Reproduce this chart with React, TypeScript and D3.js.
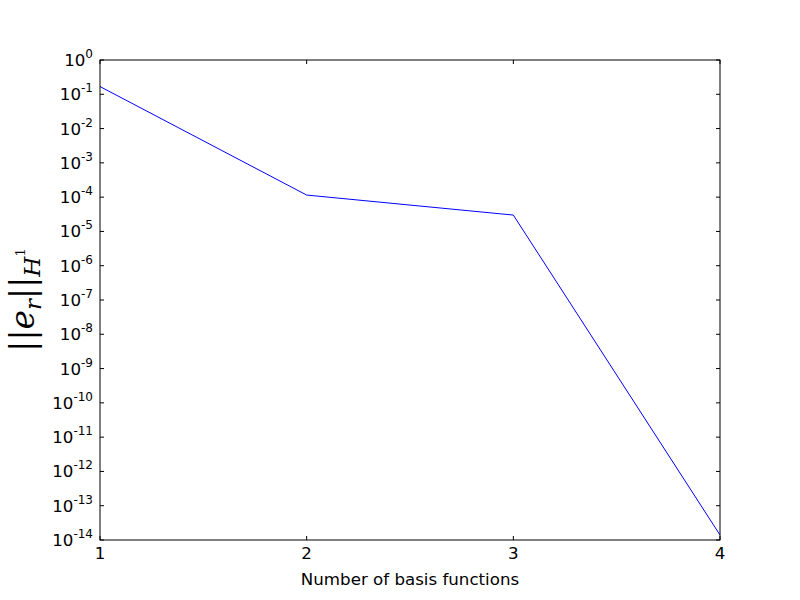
import React from "react";
import * as d3 from "d3";

const xValues = [1, 2, 3, 4];
const errValues = [0.168, 1.15e-4, 3.0e-5, 1.4e-14];
const xTicks = [1, 2, 3, 4];
const yExponents = [0, -1, -2, -3, -4, -5, -6, -7, -8, -9, -10, -11, -12, -13, -14];

const W = 800, H = 600;
const M = { left: 100, right: 720, top: 60, bottom: 540 };

export default function App() {
  const x = d3.scaleLinear().domain([1, 4]).range([M.left, M.right]);
  const y = d3.scaleLog().domain([1e-14, 1]).range([M.bottom, M.top]);
  const line = d3.line<number>().x((_, i) => x(xValues[i])).y((d) => y(d));
  const font = "DejaVu Sans";
  const fs = 16.67;
  return (
    <svg width={W} height={H} style={{ position: "absolute", left: 0, top: 0 }}>
      <rect width={W} height={H} fill="white" />
      <path d={line(errValues) || ""} fill="none" stroke="blue" strokeWidth={1} />
      <rect x={M.left} y={M.top} width={M.right - M.left} height={M.bottom - M.top} fill="none" stroke="black" strokeWidth={1} />
      {yExponents.map((e) => {
        const yy = y(Math.pow(10, e));
        return (
          <g key={e}>
            <line x1={M.left} x2={M.left + 4} y1={yy} y2={yy} stroke="black" />
            <line x1={M.right} x2={M.right - 4} y1={yy} y2={yy} stroke="black" />
            <text x={M.left - 7} y={yy + 6} textAnchor="end" fontFamily={font} fontSize={fs}>
              10<tspan dy={-8} fontSize={12}>{String(e)}</tspan>
            </text>
          </g>
        );
      })}
      {xTicks.map((t) => {
        const xx = x(t);
        return (
          <g key={t}>
            <line x1={xx} x2={xx} y1={M.bottom} y2={M.bottom - 4} stroke="black" />
            <line x1={xx} x2={xx} y1={M.top} y2={M.top + 4} stroke="black" />
            <text x={xx} y={M.bottom + 19} textAnchor="middle" fontFamily={font} fontSize={fs}>{t}</text>
          </g>
        );
      })}
      <text x={(M.left + M.right) / 2} y={585} textAnchor="middle" fontFamily={font} fontSize={fs}>Number of basis functions</text>
      <g transform={`translate(34,300) rotate(-90)`}>
        <text textAnchor="middle" fontFamily="DejaVu Serif" fontSize={33}>
          <tspan>||</tspan>
          <tspan fontStyle="italic">e</tspan>
          <tspan fontStyle="italic" fontSize={23} dy={7}>r</tspan>
          <tspan dy={-7}>||</tspan>
          <tspan fontStyle="italic" fontSize={23} dy={6}>H</tspan>
          <tspan fontSize={13} dy={-15}>1</tspan>
        </text>
      </g>
    </svg>
  );
}
